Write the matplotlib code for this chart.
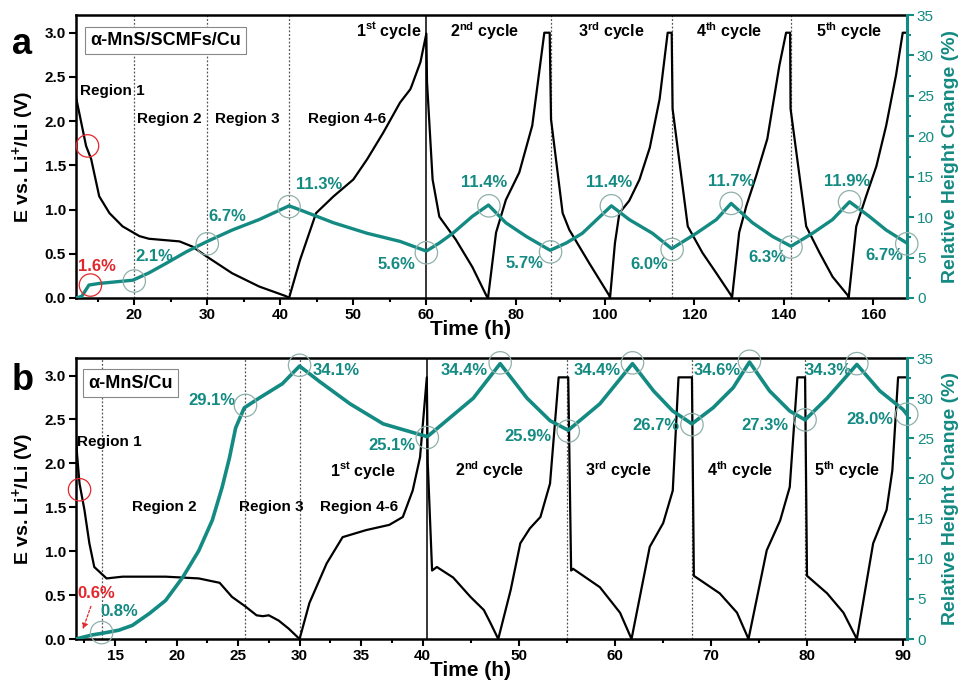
import numpy as np
import matplotlib
matplotlib.use('Agg')
import matplotlib.pyplot as plt

plt.rcParams['font.family'] = ['Liberation Sans', 'DejaVu Sans']
plt.rcParams['font.weight'] = 'bold'
plt.rcParams['mathtext.fontset'] = 'custom'
plt.rcParams['mathtext.rm'] = 'Liberation Sans:bold'
plt.rcParams['mathtext.bf'] = 'Liberation Sans:bold'

TEAL = '#138a82'
RED = '#e3262b'
CIRC = '#8fb0aa'

# ---------------- panel a: alpha-MnS/SCMFs/Cu ----------------
a_v_t = [12.0, 13.2, 13.4, 14.1, 15.2, 16.6, 18.4, 20.7, 22.0, 26.2, 28.0, 29.9, 33.4, 37.1, 40.8, 41.2,
         42.7, 44.9, 47.3, 50.0, 51.9, 54.1, 56.4, 57.8, 58.0, 59.2, 60.0,
         60.15, 61.4, 62.9, 66.6, 70.3, 73.4, 73.8,
         75.6, 77.8, 80.8, 83.7, 86.4, 87.6,
         87.9, 90.5, 92.0, 96.5, 100.9, 101.1,
         102.2, 103.2, 105.4, 107.7, 110.0, 112.2, 114.0, 114.9,
         115.1, 118.5, 121.8, 124.9, 128.2, 128.4,
         130.0, 131.6, 133.8, 136.3, 139.0, 140.5, 141.4,
         141.5, 145.0, 148.0, 150.9, 154.3, 154.5,
         156.2, 158.4, 160.7, 162.9, 165.1, 166.6, 167.5]
a_v = [2.28, 1.8, 1.72, 1.57, 1.15, 0.96, 0.81, 0.70, 0.67, 0.64, 0.58, 0.47, 0.28, 0.13, 0.02, 0.0,
       0.43, 0.96, 1.15, 1.34, 1.57, 1.87, 2.21, 2.36, 2.40, 2.67, 2.99,
       2.44, 1.34, 0.92, 0.66, 0.35, 0.03, 0.0,
       0.74, 1.11, 1.42, 1.95, 3.0, 3.0,
       2.02, 0.96, 0.77, 0.39, 0.03, 0.0,
       0.62, 0.96, 1.10, 1.34, 1.70, 2.25, 3.0, 3.0,
       2.14, 0.81, 0.51, 0.28, 0.03, 0.0,
       0.74, 1.04, 1.38, 1.80, 2.63, 3.0, 3.0,
       2.14, 0.81, 0.51, 0.24, 0.03, 0.0,
       0.81, 1.15, 1.49, 1.95, 2.52, 3.0, 3.0]

a_h_t = [12.0, 12.8, 13.8, 15.2, 19.8, 22.0, 24.4, 27.1, 30.0, 33.4, 37.1, 41.2,
         42.7, 47.3, 51.9, 56.4, 60.0,
         62.9, 65.9, 70.3, 73.9,
         77.8, 82.4, 87.7,
         91.3, 94.9, 101.4,
         105.4, 110.6, 114.9,
         120.4, 124.9, 128.2,
         133.0, 137.5, 141.6,
         146.4, 150.9, 154.7,
         159.1, 162.9, 167.5]
a_h = [0.0, 0.2, 1.6, 1.8, 2.2, 3.1, 4.3, 5.7, 7.0, 8.4, 9.7, 11.4,
       10.9, 9.3, 8.0, 7.0, 5.8,
       6.8, 8.0, 10.1, 11.5,
       9.3, 7.6, 5.9,
       6.8, 8.0, 11.4,
       9.7, 8.0, 6.1,
       8.0, 9.7, 11.7,
       9.3, 7.6, 6.4,
       8.0, 9.7, 11.9,
       10.1, 8.4, 6.8]

a_circ_t = [20.0, 30.0, 41.2, 60.0, 74.0, 87.8, 101.4, 115.0, 128.2, 141.6, 154.7, 167.5]
a_circ_h = [2.1, 6.7, 11.3, 5.6, 11.4, 5.7, 11.4, 6.0, 11.7, 6.3, 11.9, 6.7]
a_circ_lbl = ['2.1%', '6.7%', '11.3%', '5.6%', '11.4%', '5.7%', '11.4%', '6.0%', '11.7%', '6.3%', '11.9%', '6.7%']
a_lbl_t = [22.7, 32.7, 45.3, 55.9, 73.0, 81.9, 100.9, 109.9, 128.2, 136.3, 154.2, 162.5]
a_lbl_h = [5.1, 10.1, 14.0, 4.1, 14.3, 4.3, 14.3, 4.1, 14.4, 5.0, 14.4, 5.3]
a_dash = [20.0, 30.0, 41.2, 87.8, 115.0, 141.6]
a_solid = 60.0

# ---------------- panel b: alpha-MnS/Cu ----------------
b_v_t = [11.8, 11.9, 12.1, 12.5, 12.9, 13.3, 14.3, 15.6, 19.1, 21.8, 23.5, 24.5, 25.6, 26.5, 27.0, 27.5,
         28.3, 29.1, 30.0,
         30.8, 32.2, 33.5, 35.4, 37.3, 38.4, 39.2, 39.8, 40.35,
         40.45, 40.9, 41.4, 43.1, 44.9, 46.3, 47.0, 47.8,
         49.1, 50.1, 51.1, 52.2, 53.2, 54.1, 55.1,
         55.4, 55.6, 58.4, 60.5, 61.7,
         63.6, 65.0, 66.0, 66.6, 68.0,
         68.2, 70.9, 72.7, 73.9,
         75.8, 77.2, 78.2, 79.0, 79.8,
         80.0, 82.1, 83.8, 85.2,
         86.9, 88.3, 88.9, 89.5, 90.4]
b_v = [2.37, 2.1, 1.77, 1.47, 1.09, 0.82, 0.69, 0.71, 0.71, 0.69, 0.64, 0.48, 0.37, 0.27, 0.26, 0.27,
       0.21, 0.12, 0.0,
       0.41, 0.86, 1.16, 1.24, 1.30, 1.39, 1.69, 2.07, 2.98,
       2.0, 0.78, 0.82, 0.70, 0.48, 0.33, 0.18, 0.0,
       0.56, 1.09, 1.26, 1.39, 1.77, 2.98, 2.98,
       0.78, 0.80, 0.59, 0.30, 0.0,
       1.05, 1.32, 1.69, 2.98, 2.98,
       0.72, 0.52, 0.30, 0.0,
       1.01, 1.35, 1.73, 2.98, 2.98,
       0.72, 0.52, 0.30, 0.0,
       1.09, 1.47, 1.92, 2.98, 2.98]

b_h_t = [11.8, 13.1, 13.9, 15.3, 16.4, 17.8, 19.1, 20.5, 21.8, 22.9, 23.7, 24.3, 24.8, 25.5, 26.7, 28.6, 30.0,
         31.6, 34.1, 36.8, 40.4,
         42.8, 45.2, 48.0,
         50.8, 53.2, 55.1,
         58.4, 61.8,
         64.0, 66.0, 68.0,
         70.2, 72.3, 74.0,
         76.1, 78.2, 79.8,
         82.1, 85.2,
         87.6, 90.0, 90.4]
b_h = [0.0, 0.5, 0.7, 1.1, 1.7, 3.2, 4.8, 7.7, 11.0, 14.8, 18.9, 22.6, 26.3, 28.8, 30.0, 31.8, 34.0,
       32.1, 29.3, 26.8, 25.2,
       27.6, 30.0, 34.3,
       30.0, 27.2, 26.0,
       29.3, 34.3,
       30.9, 28.4, 26.8,
       28.8, 31.3, 34.5,
       30.9, 28.4, 27.3,
       30.0, 34.2,
       30.9, 28.6, 28.0]

b_circ_t = [13.9, 25.6, 30.0, 40.4, 48.0, 55.1, 61.8, 68.0, 74.0, 79.8, 85.2, 90.4]
b_circ_h = [0.8, 29.1, 34.1, 25.1, 34.4, 25.9, 34.4, 26.7, 34.6, 27.3, 34.3, 28.0]
b_circ_lbl = ['0.8%', '29.1%', '34.1%', '25.1%', '34.4%', '25.9%', '34.4%', '26.7%', '34.6%', '27.3%', '34.3%', '28.0%']
b_lbl_t = [15.3, 22.9, 33.0, 37.5, 44.2, 50.9, 58.1, 64.2, 70.6, 75.6, 82.2, 86.6]
b_lbl_h = [3.4, 29.7, 33.4, 24.1, 33.4, 25.2, 33.4, 26.6, 33.4, 26.6, 33.4, 27.4]
b_dash = [13.9, 25.6, 30.0, 55.0, 68.0, 79.8]
b_solid = 40.35

cycles = [r'1$^{\mathbf{st}}$ cycle', r'2$^{\mathbf{nd}}$ cycle', r'3$^{\mathbf{rd}}$ cycle',
          r'4$^{\mathbf{th}}$ cycle', r'5$^{\mathbf{th}}$ cycle']


def broken(b, k):
    def fwd(x):
        x = np.asarray(x, float)
        return np.where(x <= b, x, b + (x - b) * k)

    def inv(y):
        y = np.asarray(y, float)
        return np.where(y <= b, y, b + (y - b) / k)
    return fwd, inv


fig = plt.figure(figsize=(9.6, 6.83), dpi=100)
axa = fig.add_axes([0.079, 0.5637, 0.866, 0.4143])
axb = fig.add_axes([0.079, 0.0644, 0.866, 0.4114])


def setup(ax, brk, k, xlim, major, minor):
    ax.set_xscale('function', functions=broken(brk, k))
    ax.set_xlim(*xlim)
    ax.set_ylim(0, 3.2)
    ax.set_xticks(major)
    ax.set_xticks(minor, minor=True)
    ax.set_yticks(np.arange(0, 3.01, 0.5))
    ax.set_yticklabels(['%.1f' % v for v in np.arange(0, 3.01, 0.5)])
    ax.tick_params(axis='both', which='major', labelsize=11, width=1.5, length=5, direction='out', pad=2)
    ax.tick_params(axis='x', which='minor', width=1.5, length=3, direction='out')
    ax.tick_params(axis='y', which='minor', left=False)
    for s in ['left', 'bottom', 'top']:
        ax.spines[s].set_linewidth(1.8)
    ax.spines['right'].set_visible(False)
    ax.set_xlabel('Time (h)', fontsize=15, fontweight='bold')
    ax.xaxis.set_label_coords(0.475, -0.078)
    ax.set_ylabel(r'E vs. Li$^{\mathbf{+}}$/Li (V)', fontsize=14, fontweight='bold', labelpad=6)
    ax2 = ax.twinx()
    ax2.set_ylim(0, 35)
    ax2.set_yticks(np.arange(0, 36, 5))
    ax2.set_yticks(np.arange(0, 35.1, 2.5), minor=True)
    ax2.tick_params(axis='y', which='major', colors=TEAL, labelsize=11, width=1.5, length=5, pad=2)
    ax2.tick_params(axis='y', which='minor', colors=TEAL, width=1.5, length=3)
    for lab in ax2.get_yticklabels():
        lab.set_fontweight('normal')
    for s in ['left', 'bottom', 'top']:
        ax2.spines[s].set_visible(False)
    ax2.spines['right'].set_color(TEAL)
    ax2.spines['right'].set_linewidth(2.2)
    ax2.set_ylabel('Relative Height Change (%)', color=TEAL, fontsize=14, fontweight='bold', labelpad=6)
    return ax2


# panel a
a2 = setup(axa, 60.0, 0.612, (12.0, 167.6),
           [20, 30, 40, 50, 60, 80, 100, 120, 140, 160],
           [15, 25, 35, 45, 55, 70, 90, 110, 130, 150])
for x in a_dash:
    axa.axvline(x, color='#555555', lw=0.9, ls=(0, (1.5, 1.5)))
axa.axvline(a_solid, color='black', lw=1.1)
axa.plot(a_v_t, a_v, color='black', lw=1.6, zorder=3)
a2.plot(a_h_t, a_h, color=TEAL, lw=2.4, zorder=3)
a2.scatter(a_circ_t, a_circ_h, s=260, facecolors='none', edgecolors=CIRC, lw=0.9, zorder=4, clip_on=False)
axa.scatter([13.6], [1.72], s=260, facecolors='none', edgecolors=RED, lw=0.9, zorder=4, clip_on=False)
a2.scatter([14.0], [1.6], s=260, facecolors='none', edgecolors=RED, lw=0.9, zorder=4, clip_on=False)
a2.text(14.9, 3.9, '1.6%', color=RED, fontsize=12, fontweight='bold', ha='center', va='center')
for t, h, s in zip(a_lbl_t, a_lbl_h, a_circ_lbl):
    a2.text(t, h, s, color=TEAL, fontsize=12, fontweight='bold', ha='center', va='center')
axa.text(17.0, 2.34, 'Region 1', fontsize=11, ha='center', va='center')
axa.text(24.8, 2.02, 'Region 2', fontsize=11, ha='center', va='center')
axa.text(35.5, 2.02, 'Region 3', fontsize=11, ha='center', va='center')
axa.text(49.2, 2.02, 'Region 4-6', fontsize=11, ha='center', va='center')
for t, s in zip([54.9, 73.0, 101.4, 127.8, 154.6], cycles):
    axa.text(t, 3.02, s, fontsize=11.5, ha='center', va='center')
axa.text(0.108, 0.91, 'α-MnS/SCMFs/Cu', transform=axa.transAxes, fontsize=13,
         ha='center', va='center',
         bbox=dict(boxstyle='square,pad=0.3', fc='white', ec='#888888', lw=0.8))
fig.text(0.012, 0.935, 'a', fontsize=26, fontweight='bold', va='center')

# panel b
b2 = setup(axb, 40.35, 0.78, (11.8, 90.45),
           [15, 20, 25, 30, 35, 40, 50, 60, 70, 80, 90],
           [12.5, 17.5, 22.5, 27.5, 32.5, 37.5, 45, 55, 65, 75, 85])
for x in b_dash:
    axb.axvline(x, color='#555555', lw=0.9, ls=(0, (1.5, 1.5)))
axb.axvline(b_solid, color='black', lw=1.1)
axb.plot(b_v_t, b_v, color='black', lw=1.6, zorder=3)
b2.plot(b_h_t, b_h, color=TEAL, lw=2.6, zorder=3)
b2.scatter(b_circ_t, b_circ_h, s=260, facecolors='none', edgecolors=CIRC, lw=0.9, zorder=4, clip_on=False)
axb.scatter([12.1], [1.7], s=260, facecolors='none', edgecolors=RED, lw=0.9, zorder=4, clip_on=False)
b2.text(13.5, 5.7, '0.6%', color=RED, fontsize=12, fontweight='bold', ha='center', va='center')
b2.annotate('', xy=(12.3, 0.9), xytext=(13.1, 4.4),
            arrowprops=dict(arrowstyle='-|>', color=RED, lw=0.9, ls=(0, (2, 1.5)), mutation_scale=8))
for t, h, s in zip(b_lbl_t, b_lbl_h, b_circ_lbl):
    b2.text(t, h, s, color=TEAL, fontsize=12, fontweight='bold', ha='center', va='center')
axb.text(14.5, 2.24, 'Region 1', fontsize=11, ha='center', va='center')
axb.text(19.0, 1.5, 'Region 2', fontsize=11, ha='center', va='center')
axb.text(27.7, 1.5, 'Region 3', fontsize=11, ha='center', va='center')
axb.text(34.8, 1.5, 'Region 4-6', fontsize=11, ha='center', va='center')
for t, s in zip([35.1, 46.9, 60.3, 73.0, 84.2], cycles):
    axb.text(t, 1.92, s, fontsize=11.5, ha='center', va='center')
axb.text(0.066, 0.91, 'α-MnS/Cu', transform=axb.transAxes, fontsize=13,
         ha='center', va='center',
         bbox=dict(boxstyle='square,pad=0.3', fc='white', ec='#888888', lw=0.8))
fig.text(0.012, 0.443, 'b', fontsize=26, fontweight='bold', va='center')

fig.savefig('out.png', dpi=100)
